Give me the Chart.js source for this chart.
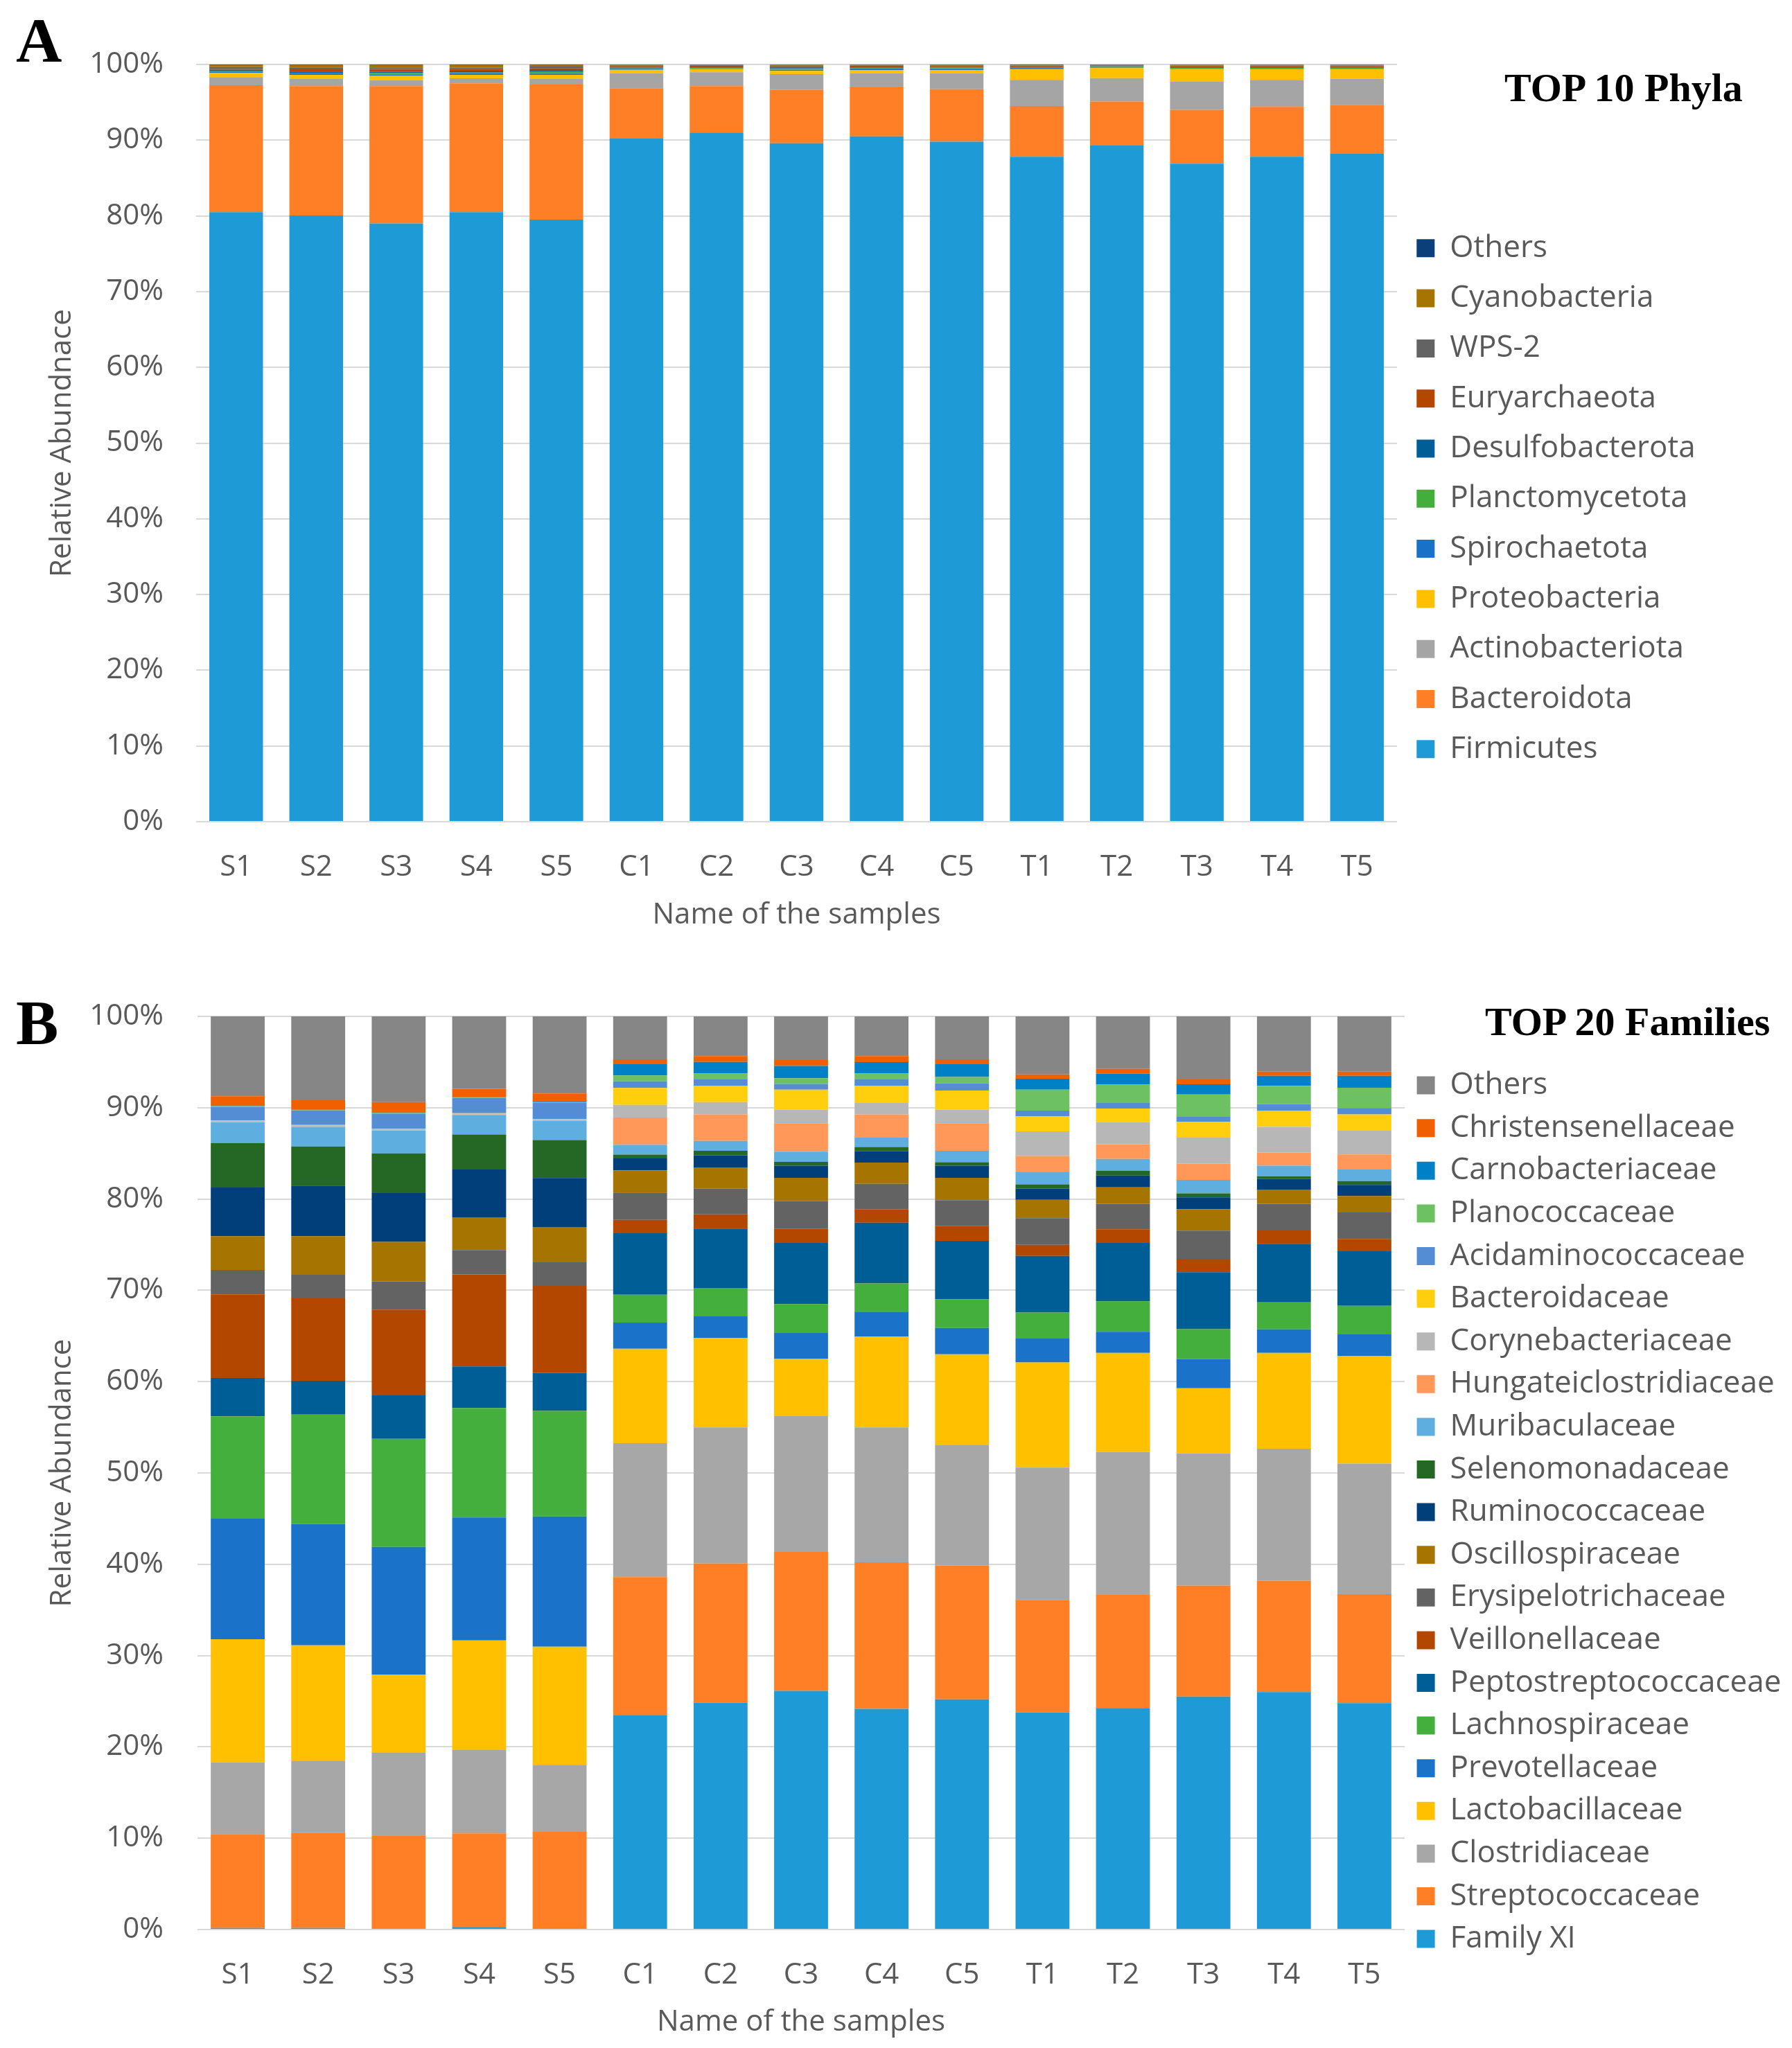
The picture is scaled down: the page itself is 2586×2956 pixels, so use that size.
<!DOCTYPE html>
<html>
<head>
<meta charset="utf-8">
<title>Relative abundance of phyla and families</title>
<script src="https://cdn.jsdelivr.net/npm/chart.js@4.4.1/dist/chart.umd.min.js"></script>
<style>
  body { margin: 0; background: #fff; }
  .page { position: relative; width: 2586px; height: 2956px; overflow: hidden; background: #fff; }
  canvas { position: absolute; left: 0; }
  #chartA { top: 0; }
  #chartB { top: 1370px; }
  .panel-letter { position: absolute; font: bold 92px "Liberation Serif", serif; line-height: 92px; color: #000; }
  .panel-title { position: absolute; font: bold 58px "Liberation Serif", serif; line-height: 58px; color: #000; white-space: nowrap; }
</style>
</head>
<body>
<div class="page">
  <canvas id="chartA" width="2586" height="1350"></canvas>
  <canvas id="chartB" width="2586" height="1586"></canvas>
  <div class="panel-letter" style="left:23px;top:12px">A</div>
  <div class="panel-letter" style="left:23px;top:1430px">B</div>
  <div class="panel-title" style="left:2171px;top:98px">TOP 10 Phyla</div>
  <div class="panel-title" style="left:2143px;top:1446px">TOP 20 Families</div>
</div>
<script>
const samples = ['S1', 'S2', 'S3', 'S4', 'S5', 'C1', 'C2', 'C3', 'C4', 'C5', 'T1', 'T2', 'T3', 'T4', 'T5'];
const yTicks = [0, 10, 20, 30, 40, 50, 60, 70, 80, 90, 100];

// Panel A - phyla, bottom of the stack first
const phylumNames = ['Firmicutes', 'Bacteroidota', 'Actinobacteriota', 'Proteobacteria', 'Spirochaetota',
  'Planctomycetota', 'Desulfobacterota', 'Euryarchaeota', 'WPS-2', 'Cyanobacteria', 'Others'];
const phylumColors = ['#1e9bd7', '#fe7f26', '#a5a5a5', '#ffc000', '#1a71c8',
  '#44ae3c', '#005e96', '#b34700', '#636363', '#a67400', '#0a3f7a'];

const firmicutes = [80.5, 80.05, 79.0, 80.5, 79.5, 90.2, 91.0, 89.6, 90.5, 89.8, 87.8, 89.3, 86.9, 87.8, 88.2];
const bacteroidota = [16.76, 17.08, 18.13, 17.0, 17.85, 6.66, 6.13, 7.05, 6.48, 6.94, 6.7, 5.8, 7.1, 6.6, 6.46];
const actinobacteriota = [1.06, 0.95, 0.8, 0.67, 0.73, 1.98, 1.83, 2.07, 1.86, 2.1, 3.46, 3.1, 3.71, 3.56, 3.45];
const proteobacteria = [0.55, 0.55, 0.55, 0.46, 0.55, 0.4, 0.43, 0.43, 0.43, 0.43, 1.43, 1.31, 1.68, 1.43, 1.28];
const spirochaetota = [0.2, 0.18, 0.2, 0.2, 0.15, 0.08, 0.06, 0.15, 0.2, 0.08, 0.15, 0.03, 0.03, 0.05, 0.05];
const planctomycetota = [0.03, 0.1, 0.2, 0.1, 0.3, 0.15, 0.08, 0.12, 0.05, 0.15, 0.03, 0.15, 0.12, 0.1, 0.12];
const desulfobacterota = [0.18, 0.15, 0.15, 0.15, 0.1, 0.1, 0.08, 0.1, 0.08, 0.08, 0.05, 0.08, 0.08, 0.08, 0.08];
const euryarchaeota = [0.15, 0.3, 0.3, 0.3, 0.3, 0.13, 0.12, 0.13, 0.12, 0.12, 0.12, 0.05, 0.12, 0.12, 0.12];
const wps2 = [0.22, 0.25, 0.2, 0.2, 0.25, 0.15, 0.15, 0.2, 0.15, 0.15, 0.12, 0.06, 0.1, 0.12, 0.1];
const cyanobacteria = [0.28, 0.32, 0.4, 0.35, 0.2, 0.1, 0.07, 0.1, 0.08, 0.1, 0.08, 0.08, 0.12, 0.1, 0.1];
const othersPhyla = [0.07, 0.07, 0.07, 0.07, 0.07, 0.05, 0.05, 0.05, 0.05, 0.05, 0.06, 0.04, 0.04, 0.04, 0.04];

// Panel B - families, bottom of the stack first
const familyNames = ['Family XI', 'Streptococcaceae', 'Clostridiaceae', 'Lactobacillaceae', 'Prevotellaceae',
  'Lachnospiraceae', 'Peptostreptococcaceae', 'Veillonellaceae', 'Erysipelotrichaceae', 'Oscillospiraceae',
  'Ruminococcaceae', 'Selenomonadaceae', 'Muribaculaceae', 'Hungateiclostridiaceae', 'Corynebacteriaceae',
  'Bacteroidaceae', 'Acidaminococcaceae', 'Planococcaceae', 'Carnobacteriaceae', 'Christensenellaceae', 'Others'];
const familyColors = ['#1e9bd7', '#fe7f26', '#a7a7a7', '#ffc000', '#1a73c8',
  '#44af3c', '#005e96', '#b34700', '#636363', '#a67400',
  '#003f7a', '#256725', '#5eafe0', '#ff9858', '#b7b7b7',
  '#ffce0c', '#548dd4', '#6ec163', '#0080c6', '#f06000', '#868686'];

const familyXI = [0.18, 0.18, 0.07, 0.28, 0.14, 23.5, 24.84, 26.14, 24.17, 25.2, 23.77, 24.26, 25.52, 26.01, 24.8];
const streptococcaceae = [10.28, 10.42, 10.18, 10.25, 10.56, 15.1, 15.25, 15.21, 16.05, 14.67, 12.33, 12.38, 12.15, 12.2, 11.93];
const clostridiaceae = [7.84, 7.89, 9.15, 9.12, 7.34, 14.67, 14.89, 14.88, 14.76, 13.22, 14.48, 15.65, 14.48, 14.44, 14.3];
const lactobacillaceae = [13.5, 12.63, 8.5, 12.0, 12.94, 10.33, 9.82, 6.28, 9.95, 9.91, 11.52, 10.85, 7.13, 10.49, 11.8];
const prevotellaceae = [13.2, 13.3, 14.0, 13.47, 14.25, 2.86, 2.4, 2.81, 2.67, 2.88, 2.61, 2.31, 3.19, 2.59, 2.41];
const lachnospiraceae = [11.2, 11.98, 11.84, 11.99, 11.57, 3.06, 3.05, 3.18, 3.16, 3.13, 2.85, 3.35, 3.28, 2.95, 3.06];
const peptostreptococcaceae = [4.2, 3.7, 4.76, 4.56, 4.15, 6.74, 6.52, 6.69, 6.64, 6.41, 6.21, 6.39, 6.24, 6.41, 5.97];
const veillonellaceae = [9.16, 9.02, 9.39, 10.06, 9.53, 1.45, 1.55, 1.58, 1.45, 1.65, 1.22, 1.5, 1.45, 1.47, 1.35];
const erysipelotrichaceae = [2.68, 2.58, 3.09, 2.69, 2.58, 3.0, 2.8, 3.0, 2.8, 2.8, 2.92, 2.78, 3.1, 2.91, 2.9];
const oscillospiraceae = [3.68, 4.22, 4.32, 3.57, 3.88, 2.42, 2.34, 2.55, 2.34, 2.45, 2.01, 1.8, 2.34, 1.57, 1.81];
const ruminococcaceae = [5.34, 5.54, 5.35, 5.24, 5.37, 1.32, 1.32, 1.32, 1.23, 1.32, 1.23, 1.3, 1.3, 1.15, 1.22];
const selenomonadaceae = [4.86, 4.29, 4.35, 3.84, 4.15, 0.41, 0.51, 0.43, 0.48, 0.38, 0.45, 0.53, 0.43, 0.28, 0.41];
const muribaculaceae = [2.28, 2.15, 2.5, 2.13, 2.09, 1.07, 1.07, 1.12, 1.07, 1.27, 1.33, 1.28, 1.48, 1.17, 1.27];
const hungateiclostridiaceae = [0.02, 0.02, 0.02, 0.05, 0.02, 3.0, 2.9, 3.11, 2.49, 3.01, 1.78, 1.63, 1.78, 1.45, 1.66];
const corynebacteriaceae = [0.15, 0.14, 0.13, 0.05, 0.13, 1.38, 1.35, 1.47, 1.25, 1.47, 2.69, 2.41, 2.9, 2.8, 2.59];
const bacteroidaceae = [0.03, 0.04, 0.05, 0.1, 0.05, 1.85, 1.81, 2.21, 1.91, 2.11, 1.66, 1.48, 1.68, 1.8, 1.78];
const acidaminococcaceae = [1.5, 1.6, 1.66, 1.66, 1.8, 0.72, 0.68, 0.62, 0.68, 0.77, 0.63, 0.61, 0.61, 0.69, 0.71];
const planococcaceae = [0.05, 0.05, 0.05, 0.05, 0.05, 0.66, 0.64, 0.63, 0.64, 0.71, 2.29, 2.01, 2.39, 2.01, 2.22];
const carnobacteriaceae = [0.05, 0.05, 0.05, 0.05, 0.05, 1.22, 1.27, 1.35, 1.25, 1.4, 1.2, 1.22, 1.12, 1.1, 1.3];
const christensenellaceae = [1.06, 1.02, 1.15, 0.91, 0.91, 0.53, 0.64, 0.64, 0.66, 0.53, 0.46, 0.51, 0.53, 0.45, 0.45];
const othersFamilies = [8.74, 9.18, 9.39, 7.93, 8.44, 4.71, 4.35, 4.78, 4.35, 4.71, 6.36, 5.75, 6.9, 6.06, 6.06];

const phylumSeries = [firmicutes, bacteroidota, actinobacteriota, proteobacteria, spirochaetota,
  planctomycetota, desulfobacterota, euryarchaeota, wps2, cyanobacteria, othersPhyla];
const familySeries = [familyXI, streptococcaceae, clostridiaceae, lactobacillaceae, prevotellaceae,
  lachnospiraceae, peptostreptococcaceae, veillonellaceae, erysipelotrichaceae, oscillospiraceae,
  ruminococcaceae, selenomonadaceae, muribaculaceae, hungateiclostridiaceae, corynebacteriaceae,
  bacteroidaceae, acidaminococcaceae, planococcaceae, carnobacteriaceae, christensenellaceae, othersFamilies];

const FONT = '"Open Sans", "DejaVu Sans", sans-serif';
const TEXT = '#595959';
const W = 2586;

Chart.defaults.font.family = FONT;
Chart.defaults.color = TEXT;

// width chart.js gives a vertical legend: padding + box + half font + longest text + 10
function legendWidth(names, size, pad, box) {
  const ctx = document.createElement('canvas').getContext('2d');
  ctx.font = `${size}px ${FONT}`;
  const longest = Math.max(...names.map(n => ctx.measureText(n).width));
  return pad + box + size / 2 + longest + 10;
}

function makeChart(id, names, series, colors, o) {
  const legW = legendWidth(names, o.legendSize, o.legendPad, 26);
  const padRight = Math.max(0, W - o.plotRight - legW);

  return new Chart(document.getElementById(id), {
    type: 'bar',
    data: {
      labels: samples,
      datasets: names.map((name, i) => ({
        label: name,
        data: series[i],
        backgroundColor: colors[i],
        borderWidth: 0,
        categoryPercentage: 1,
        barPercentage: 0.67,
      })),
    },
    options: {
      responsive: false,
      animation: false,
      devicePixelRatio: 1,
      layout: { padding: { top: o.plotTop, right: padRight, bottom: 0, left: 0 } },
      scales: {
        x: {
          stacked: true,
          grid: { display: false, drawTicks: false },
          border: { display: false },
          ticks: { font: { size: 42 }, color: TEXT, padding: 41, maxRotation: 0, autoSkip: false },
          title: { display: true, text: 'Name of the samples', font: { size: 42 }, color: TEXT,
            padding: { top: 0, bottom: o.xTitlePad } },
          afterFit: s => { s.height = o.xAxisHeight; },
        },
        y: {
          stacked: true,
          min: 0,
          max: 100,
          grid: { color: '#d9d9d9', lineWidth: 2, drawTicks: false },
          border: { display: false },
          afterBuildTicks: s => { s.ticks = yTicks.map(v => ({ value: v })); },
          ticks: { font: { size: 42 }, color: TEXT, padding: o.yTickPad, callback: v => v + '%' },
          title: { display: true, text: o.yTitle, font: { size: 42 }, color: TEXT,
            padding: { top: 65, bottom: 0 } },
          afterFit: s => { s.width = o.plotLeft; },
        },
      },
      plugins: {
        tooltip: { enabled: false },
        legend: {
          position: 'right',
          align: 'start',
          reverse: true,
          // empty title only pushes the key down to where it sits in the figure
          title: { display: true, text: '', font: { size: 10, lineHeight: 1 }, padding: { top: o.legendOffset, bottom: 0 } },
          labels: { font: { size: o.legendSize }, color: TEXT, boxWidth: 26, boxHeight: 26, padding: o.legendPad },
        },
      },
    },
  });
}

makeChart('chartA', phylumNames, phylumSeries, phylumColors, {
  yTitle: 'Relative Abundnace',
  plotLeft: 283, plotRight: 2016, plotTop: 93,
  xAxisHeight: 164, xTitlePad: 4, yTickPad: 47,
  legendSize: 44, legendPad: 28.3, legendOffset: 205,
});

makeChart('chartB', familyNames, familySeries, familyColors, {
  yTitle: 'Relative Abundance',
  plotLeft: 285, plotRight: 2027, plotTop: 97,
  xAxisHeight: 171, xTitlePad: 12, yTickPad: 49,
  legendSize: 44, legendPad: 17.6, legendOffset: 50,
});
</script>
</body>
</html>
